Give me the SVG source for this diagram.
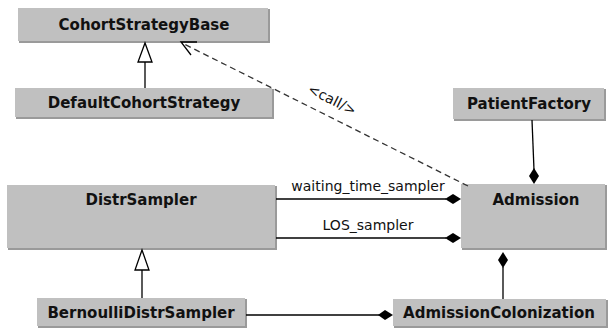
<svg xmlns="http://www.w3.org/2000/svg" width="608" height="329" viewBox="0 0 608 329">
<style>
.box{fill:#c0c0c0}
.sh{fill:#9a9a9a}
.t{font-family:"DejaVu Sans",sans-serif;font-weight:bold;font-size:15px;fill:#111;text-anchor:middle}
.l{font-family:"DejaVu Sans",sans-serif;font-size:14px;fill:#111;text-anchor:middle}
.ln{stroke:#000;stroke-width:1.3;fill:none}
.dash{stroke:#333;stroke-width:1.3;fill:none;stroke-dasharray:6,4}
.inh{fill:#fff;stroke:#000;stroke-width:1.3}
.dia{fill:#000}
</style>
<rect width="608" height="329" fill="#fff"/>
<g id="CohortStrategyBase"><rect class="sh" x="19" y="9" width="251" height="34"/><rect class="box" x="18" y="8" width="250" height="33"/><text class="t" x="144" y="30">CohortStrategyBase</text></g>
<g id="DefaultCohortStrategy"><rect class="sh" x="16" y="89" width="258" height="30"/><rect class="box" x="15" y="88" width="257" height="29"/><text class="t" x="144" y="108">DefaultCohortStrategy</text></g>
<g id="PatientFactory"><rect class="sh" x="454" y="89" width="152" height="32"/><rect class="box" x="453" y="88" width="151" height="31"/><text class="t" x="529" y="109">PatientFactory</text></g>
<g id="DistrSampler"><rect class="sh" x="8" y="186" width="269" height="64"/><rect class="box" x="7" y="185" width="268" height="63"/><text class="t" x="141" y="205">DistrSampler</text></g>
<g id="Admission"><rect class="sh" x="462" y="185" width="145" height="65"/><rect class="box" x="461" y="184" width="144" height="64"/><text class="t" x="536" y="205">Admission</text></g>
<g id="BernoulliDistrSampler"><rect class="sh" x="38" y="299" width="209" height="29"/><rect class="box" x="37" y="298" width="208" height="28"/><text class="t" x="141" y="318">BernoulliDistrSampler</text></g>
<g id="AdmissionColonization"><rect class="sh" x="394" y="300" width="214" height="28"/><rect class="box" x="393" y="299" width="213" height="27"/><text class="t" x="499" y="318">AdmissionColonization</text></g>
<g id="connectors">
<line class="ln" x1="145" y1="62" x2="145" y2="88"/>
<polygon class="inh" points="145,43 138,62 152,62"/>
<line class="ln" x1="142" y1="270" x2="142" y2="298"/>
<polygon class="inh" points="142,250 135,270 149,270"/>
<line class="dash" x1="468" y1="186" x2="182" y2="43"/>
<path class="ln" d="M197,42 L181,42 L191,55"/>
<text class="l" transform="translate(330,104) rotate(26.57)">&lt;call/&gt;</text>
<line class="ln" x1="532" y1="120" x2="534" y2="170"/>
<polygon class="dia" points="534,168 539,176 534,184 529,176"/>
<line class="ln" x1="276" y1="199" x2="446" y2="199"/>
<polygon class="dia" points="445,199 453,194 461,199 453,204"/>
<text class="l" x="368" y="191">waiting_time_sampler</text>
<line class="ln" x1="276" y1="238" x2="446" y2="238"/>
<polygon class="dia" points="445,238 453,233 461,238 453,243"/>
<text class="l" x="368" y="230">LOS_sampler</text>
<line class="ln" x1="503" y1="267" x2="503" y2="299"/>
<polygon class="dia" points="503,252 508,260 503,268 498,260"/>
<line class="ln" x1="246" y1="315" x2="380" y2="315"/>
<polygon class="dia" points="378,315 385,310 393,315 385,320"/>
</g>
</svg>
